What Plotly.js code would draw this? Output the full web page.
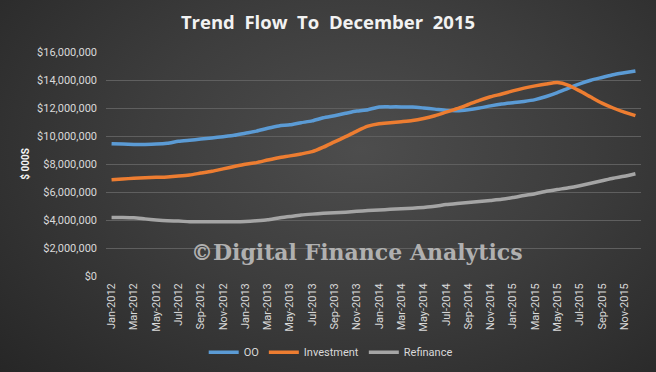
<!DOCTYPE html>
<html>
<head>
<meta charset="utf-8">
<script src="https://cdn.plot.ly/plotly-3.0.1.min.js"></script>
<style>
  html, body { margin: 0; padding: 0; }
  #chart {
    width: 656px; height: 372px;
    background: radial-gradient(ellipse 75% 90% at 55% 40%, #4d4d4d 0%, #3d3d3d 45%, #262626 100%);
  }
</style>
</head>
<body>
<div id="chart"></div>
<script>
const months = ["Jan","Feb","Mar","Apr","May","Jun","Jul","Aug","Sep","Oct","Nov","Dec"];
const years = [2012, 2013, 2014, 2015];
const categories = [];
years.forEach(y => months.forEach(m => categories.push(m + "-" + y)));

const oo = [9.45, 9.42, 9.40, 9.40, 9.42, 9.48, 9.62, 9.70, 9.78, 9.86, 9.95, 10.05,
            10.20, 10.35, 10.55, 10.72, 10.80, 10.95, 11.08, 11.30, 11.45, 11.62, 11.78, 11.88,
            12.07, 12.08, 12.08, 12.07, 12.00, 11.92, 11.83, 11.80, 11.88, 12.00, 12.15, 12.28,
            12.38, 12.47, 12.60, 12.82, 13.10, 13.42, 13.72, 13.98, 14.18, 14.38, 14.52, 14.65];
const investment = [6.88, 6.93, 6.98, 7.02, 7.05, 7.08, 7.14, 7.22, 7.35, 7.48, 7.65, 7.82,
            7.98, 8.10, 8.28, 8.45, 8.58, 8.72, 8.88, 9.20, 9.58, 9.95, 10.35, 10.70,
            10.88, 10.95, 11.02, 11.10, 11.25, 11.45, 11.70, 11.95, 12.25, 12.55, 12.80, 13.00,
            13.22, 13.42, 13.58, 13.72, 13.82, 13.62, 13.22, 12.78, 12.35, 12.00, 11.70, 11.45];
const refinance = [4.18, 4.18, 4.16, 4.08, 4.00, 3.94, 3.92, 3.88, 3.88, 3.88, 3.88, 3.88,
            3.90, 3.95, 4.02, 4.15, 4.25, 4.35, 4.42, 4.48, 4.52, 4.56, 4.62, 4.68,
            4.72, 4.76, 4.80, 4.84, 4.90, 4.98, 5.10, 5.18, 5.25, 5.32, 5.40, 5.48,
            5.60, 5.75, 5.88, 6.05, 6.18, 6.30, 6.45, 6.62, 6.80, 6.98, 7.12, 7.30];
const scale = 1000000;
const yTicks = [0, 2, 4, 6, 8, 10, 12, 14, 16];

function mk(name, vals, color) {
  return {
    type: 'scatter', mode: 'lines', name: name,
    x: categories, y: vals.map(v => v * scale),
    line: {color: color, width: 3.5, shape: 'spline', smoothing: 0.6},
    hoverinfo: 'skip'
  };
}

const data = [
  mk('OO', oo, '#5B9BD5'),
  mk('Investment', investment, '#ED7D31'),
  mk('Refinance', refinance, '#A5A5A5')
];

const tickFont = {family: 'Roboto, sans-serif', size: 11, color: '#d9d9d9'};

const layout = {
  width: 656, height: 372,
  paper_bgcolor: 'rgba(0,0,0,0)',
  plot_bgcolor: 'rgba(0,0,0,0)',
  margin: {l: 106, r: 15, t: 52, b: 96, autoexpand: false},
  title: {
    text: 'Trend  Flow  To  December  2015',
    font: {family: 'Open Sans, sans-serif', size: 18.5, color: '#f2f2f2', weight: 'bold'},
    x: 0.5, xanchor: 'center', y: 0.94, yanchor: 'middle'
  },
  xaxis: {
    type: 'category',
    range: [-0.5, 47.5],
    automargin: false,
    tickmode: 'array',
    tickvals: categories.filter((c, i) => i % 2 === 0),
    ticktext: categories.filter((c, i) => i % 2 === 0),
    tickangle: -90,
    tickfont: tickFont,
    showgrid: false, zeroline: false, showline: false,
    ticks: '', ticklen: 0, ticklabelstandoff: 4
  },
  yaxis: {
    range: [0, 16 * scale],
    automargin: false,
    tickvals: yTicks.map(v => v * scale),
    ticktext: yTicks.map(v => '$' + (v * scale).toLocaleString('en-US')),
    tickfont: tickFont,
    gridcolor: '#5f5f5f', gridwidth: 1,
    zeroline: false, showline: false,
    ticks: '', ticklen: 0, ticklabelstandoff: 8,
    title: {text: '$ 000S', font: {family: 'Roboto, sans-serif', size: 10, color: '#f2f2f2', weight: 'bold'}, standoff: 5}
  },
  legend: {
    orientation: 'h', x: 0.42, xanchor: 'center', y: -0.34, yanchor: 'middle',
    font: {family: 'Roboto, sans-serif', size: 11, color: '#d9d9d9'},
    itemwidth: 30, bgcolor: 'rgba(0,0,0,0)'
  },
  annotations: [{
    text: '©Digital Finance Analytics',
    xref: 'paper', yref: 'paper', x: 0.469, y: 0.107,
    xanchor: 'center', yanchor: 'middle', showarrow: false,
    font: {family: 'DejaVu Serif, serif', size: 22, color: '#b0b0b0', weight: 'bold'}
  }],
  showlegend: true
};

Plotly.newPlot('chart', data, layout, {displayModeBar: false, staticPlot: true});
</script>
</body>
</html>
